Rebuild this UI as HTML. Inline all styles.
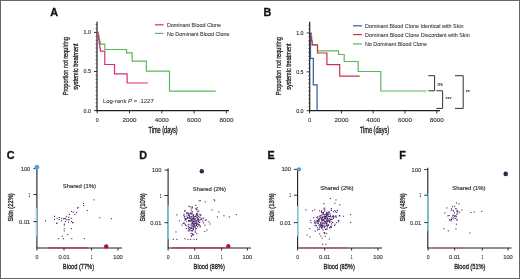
<!DOCTYPE html>
<html><head><meta charset="utf-8"><style>
html,body{margin:0;padding:0;background:#fff;}
svg{display:block;font-family:"Liberation Sans", sans-serif;will-change:transform;}
</style></head><body>
<svg width="520" height="279" viewBox="0 0 520 279" font-family='"Liberation Sans", sans-serif'>
<rect x="0.5" y="0.5" width="519" height="278" fill="#fff" stroke="#666" stroke-width="1"/>
<text x="50.20" y="15.80" font-size="10.8" text-anchor="start" font-weight="bold" fill="#111" stroke="#111" stroke-width="0.3" >A</text>
<line x1="97.00" y1="21.80" x2="97.00" y2="111.20" stroke="#1e1e1e" stroke-width="1.2" />
<line x1="94.00" y1="32.40" x2="97.00" y2="32.40" stroke="#1e1e1e" stroke-width="0.9" />
<text x="90.90" y="34.30" font-size="5.6" text-anchor="end" font-weight="normal" fill="#333" stroke="#333" stroke-width="0.14" textLength="7.4" lengthAdjust="spacingAndGlyphs" >1.0</text>
<line x1="94.00" y1="71.50" x2="97.00" y2="71.50" stroke="#1e1e1e" stroke-width="0.9" />
<text x="90.90" y="73.40" font-size="5.6" text-anchor="end" font-weight="normal" fill="#333" stroke="#333" stroke-width="0.14" textLength="7.4" lengthAdjust="spacingAndGlyphs" >0.5</text>
<line x1="94.00" y1="110.60" x2="97.00" y2="110.60" stroke="#1e1e1e" stroke-width="0.9" />
<text x="90.90" y="112.50" font-size="5.6" text-anchor="end" font-weight="normal" fill="#333" stroke="#333" stroke-width="0.14" textLength="7.4" lengthAdjust="spacingAndGlyphs" >0.0</text>
<line x1="95.50" y1="106.69" x2="97.00" y2="106.69" stroke="#333" stroke-width="0.7" />
<line x1="95.50" y1="102.78" x2="97.00" y2="102.78" stroke="#333" stroke-width="0.7" />
<line x1="95.50" y1="98.87" x2="97.00" y2="98.87" stroke="#333" stroke-width="0.7" />
<line x1="95.50" y1="94.96" x2="97.00" y2="94.96" stroke="#333" stroke-width="0.7" />
<line x1="95.50" y1="91.05" x2="97.00" y2="91.05" stroke="#333" stroke-width="0.7" />
<line x1="95.50" y1="87.14" x2="97.00" y2="87.14" stroke="#333" stroke-width="0.7" />
<line x1="95.50" y1="83.23" x2="97.00" y2="83.23" stroke="#333" stroke-width="0.7" />
<line x1="95.50" y1="79.32" x2="97.00" y2="79.32" stroke="#333" stroke-width="0.7" />
<line x1="95.50" y1="75.41" x2="97.00" y2="75.41" stroke="#333" stroke-width="0.7" />
<line x1="95.50" y1="67.59" x2="97.00" y2="67.59" stroke="#333" stroke-width="0.7" />
<line x1="95.50" y1="63.68" x2="97.00" y2="63.68" stroke="#333" stroke-width="0.7" />
<line x1="95.50" y1="59.77" x2="97.00" y2="59.77" stroke="#333" stroke-width="0.7" />
<line x1="95.50" y1="55.86" x2="97.00" y2="55.86" stroke="#333" stroke-width="0.7" />
<line x1="95.50" y1="51.95" x2="97.00" y2="51.95" stroke="#333" stroke-width="0.7" />
<line x1="95.50" y1="48.04" x2="97.00" y2="48.04" stroke="#333" stroke-width="0.7" />
<line x1="95.50" y1="44.13" x2="97.00" y2="44.13" stroke="#333" stroke-width="0.7" />
<line x1="95.50" y1="40.22" x2="97.00" y2="40.22" stroke="#333" stroke-width="0.7" />
<line x1="95.50" y1="36.31" x2="97.00" y2="36.31" stroke="#333" stroke-width="0.7" />
<line x1="95.50" y1="28.49" x2="97.00" y2="28.49" stroke="#333" stroke-width="0.7" />
<line x1="95.50" y1="24.58" x2="97.00" y2="24.58" stroke="#333" stroke-width="0.7" />
<line x1="96.40" y1="110.60" x2="229.00" y2="110.60" stroke="#1e1e1e" stroke-width="1.2" />
<line x1="97.20" y1="110.60" x2="97.20" y2="113.40" stroke="#1e1e1e" stroke-width="0.9" />
<text x="97.20" y="121.90" font-size="5.8" text-anchor="middle" font-weight="normal" fill="#333" stroke="#333" stroke-width="0.12" textLength="2.9" lengthAdjust="spacingAndGlyphs" >0</text>
<line x1="129.50" y1="110.60" x2="129.50" y2="113.40" stroke="#1e1e1e" stroke-width="0.9" />
<text x="129.50" y="121.90" font-size="5.8" text-anchor="middle" font-weight="normal" fill="#333" stroke="#333" stroke-width="0.12" textLength="14.0" lengthAdjust="spacingAndGlyphs" >2000</text>
<line x1="161.80" y1="110.60" x2="161.80" y2="113.40" stroke="#1e1e1e" stroke-width="0.9" />
<text x="161.80" y="121.90" font-size="5.8" text-anchor="middle" font-weight="normal" fill="#333" stroke="#333" stroke-width="0.12" textLength="14.0" lengthAdjust="spacingAndGlyphs" >4000</text>
<line x1="194.10" y1="110.60" x2="194.10" y2="113.40" stroke="#1e1e1e" stroke-width="0.9" />
<text x="194.10" y="121.90" font-size="5.8" text-anchor="middle" font-weight="normal" fill="#333" stroke="#333" stroke-width="0.12" textLength="14.0" lengthAdjust="spacingAndGlyphs" >6000</text>
<line x1="226.40" y1="110.60" x2="226.40" y2="113.40" stroke="#1e1e1e" stroke-width="0.9" />
<text x="226.40" y="121.90" font-size="5.8" text-anchor="middle" font-weight="normal" fill="#333" stroke="#333" stroke-width="0.12" textLength="14.0" lengthAdjust="spacingAndGlyphs" >8000</text>
<text x="163.10" y="133.30" font-size="8.2" text-anchor="middle" font-weight="normal" fill="#222" stroke="#222" stroke-width="0.32" textLength="29.2" lengthAdjust="spacingAndGlyphs" >Time (days)</text>
<g transform="translate(67.6,66.2) rotate(-90)">
<text x="0.00" y="0.00" font-size="7.9" text-anchor="middle" font-weight="normal" fill="#222" stroke="#222" stroke-width="0.32" textLength="58.3" lengthAdjust="spacingAndGlyphs" >Proportion not requiring</text>
</g>
<g transform="translate(78.0,66.6) rotate(-90)">
<text x="0.00" y="0.00" font-size="7.9" text-anchor="middle" font-weight="normal" fill="#222" stroke="#222" stroke-width="0.32" textLength="46.5" lengthAdjust="spacingAndGlyphs" >systemic treatment</text>
</g>
<path d="M97.2,32.4 H98.2 V35 H99 V38.5 H99.6 V41.5 H100.3 V44.2 H104.8 V49.5 H126.6 V52.9 H132.2 V61.1 H146.3 V71.1 H169.5 V91.1 H215.7 V91.1" fill="none" stroke="#5cb858" stroke-width="1.2" />
<path d="M97.2,32.4 H97.8 V36 H98.5 V40 H99.2 V44 H99.8 V48 H100.4 V51.2 H104.8 V64.5 H114.5 V73.8 H127.1 V83.0 H147.8 V83.0" fill="none" stroke="#dc2a7c" stroke-width="1.2" />
<line x1="154.90" y1="24.80" x2="163.60" y2="24.80" stroke="#dc2a7c" stroke-width="1.2" />
<line x1="154.90" y1="33.40" x2="163.60" y2="33.40" stroke="#5cb858" stroke-width="1.2" />
<text x="166.90" y="26.70" font-size="5.5" text-anchor="start" font-weight="normal" fill="#404040" stroke="#404040" stroke-width="0.1" textLength="54.2" lengthAdjust="spacingAndGlyphs" >Dominant Blood Clone</text>
<text x="166.90" y="35.50" font-size="5.5" text-anchor="start" font-weight="normal" fill="#404040" stroke="#404040" stroke-width="0.1" textLength="62.7" lengthAdjust="spacingAndGlyphs" >No Dominant Blood Clone</text>
<text x="102.9" y="103" font-size="6.1" fill="#333" stroke="#333" stroke-width="0.06" textLength="50.8" lengthAdjust="spacingAndGlyphs">Log-rank <tspan font-style="italic">P</tspan> = .1227</text>
<text x="263.40" y="15.80" font-size="10.8" text-anchor="start" font-weight="bold" fill="#111" stroke="#111" stroke-width="0.3" >B</text>
<line x1="309.70" y1="21.80" x2="309.70" y2="111.30" stroke="#1e1e1e" stroke-width="1.2" />
<line x1="306.70" y1="33.00" x2="309.70" y2="33.00" stroke="#1e1e1e" stroke-width="0.9" />
<text x="303.60" y="34.90" font-size="5.6" text-anchor="end" font-weight="normal" fill="#333" stroke="#333" stroke-width="0.14" textLength="7.4" lengthAdjust="spacingAndGlyphs" >1.0</text>
<line x1="306.70" y1="71.85" x2="309.70" y2="71.85" stroke="#1e1e1e" stroke-width="0.9" />
<text x="303.60" y="73.75" font-size="5.6" text-anchor="end" font-weight="normal" fill="#333" stroke="#333" stroke-width="0.14" textLength="7.4" lengthAdjust="spacingAndGlyphs" >0.5</text>
<line x1="306.70" y1="110.70" x2="309.70" y2="110.70" stroke="#1e1e1e" stroke-width="0.9" />
<text x="303.60" y="112.60" font-size="5.6" text-anchor="end" font-weight="normal" fill="#333" stroke="#333" stroke-width="0.14" textLength="7.4" lengthAdjust="spacingAndGlyphs" >0.0</text>
<line x1="308.20" y1="106.81" x2="309.70" y2="106.81" stroke="#333" stroke-width="0.7" />
<line x1="308.20" y1="102.93" x2="309.70" y2="102.93" stroke="#333" stroke-width="0.7" />
<line x1="308.20" y1="99.05" x2="309.70" y2="99.05" stroke="#333" stroke-width="0.7" />
<line x1="308.20" y1="95.16" x2="309.70" y2="95.16" stroke="#333" stroke-width="0.7" />
<line x1="308.20" y1="91.28" x2="309.70" y2="91.28" stroke="#333" stroke-width="0.7" />
<line x1="308.20" y1="87.39" x2="309.70" y2="87.39" stroke="#333" stroke-width="0.7" />
<line x1="308.20" y1="83.50" x2="309.70" y2="83.50" stroke="#333" stroke-width="0.7" />
<line x1="308.20" y1="79.62" x2="309.70" y2="79.62" stroke="#333" stroke-width="0.7" />
<line x1="308.20" y1="75.73" x2="309.70" y2="75.73" stroke="#333" stroke-width="0.7" />
<line x1="308.20" y1="67.97" x2="309.70" y2="67.97" stroke="#333" stroke-width="0.7" />
<line x1="308.20" y1="64.08" x2="309.70" y2="64.08" stroke="#333" stroke-width="0.7" />
<line x1="308.20" y1="60.20" x2="309.70" y2="60.20" stroke="#333" stroke-width="0.7" />
<line x1="308.20" y1="56.31" x2="309.70" y2="56.31" stroke="#333" stroke-width="0.7" />
<line x1="308.20" y1="52.42" x2="309.70" y2="52.42" stroke="#333" stroke-width="0.7" />
<line x1="308.20" y1="48.54" x2="309.70" y2="48.54" stroke="#333" stroke-width="0.7" />
<line x1="308.20" y1="44.65" x2="309.70" y2="44.65" stroke="#333" stroke-width="0.7" />
<line x1="308.20" y1="40.77" x2="309.70" y2="40.77" stroke="#333" stroke-width="0.7" />
<line x1="308.20" y1="36.88" x2="309.70" y2="36.88" stroke="#333" stroke-width="0.7" />
<line x1="308.20" y1="29.11" x2="309.70" y2="29.11" stroke="#333" stroke-width="0.7" />
<line x1="308.20" y1="25.23" x2="309.70" y2="25.23" stroke="#333" stroke-width="0.7" />
<line x1="309.10" y1="110.70" x2="440.00" y2="110.70" stroke="#1e1e1e" stroke-width="1.2" />
<line x1="309.60" y1="110.70" x2="309.60" y2="113.50" stroke="#1e1e1e" stroke-width="0.9" />
<text x="309.60" y="121.90" font-size="5.8" text-anchor="middle" font-weight="normal" fill="#333" stroke="#333" stroke-width="0.12" textLength="2.9" lengthAdjust="spacingAndGlyphs" >0</text>
<line x1="341.40" y1="110.70" x2="341.40" y2="113.50" stroke="#1e1e1e" stroke-width="0.9" />
<text x="341.40" y="121.90" font-size="5.8" text-anchor="middle" font-weight="normal" fill="#333" stroke="#333" stroke-width="0.12" textLength="14.0" lengthAdjust="spacingAndGlyphs" >2000</text>
<line x1="373.20" y1="110.70" x2="373.20" y2="113.50" stroke="#1e1e1e" stroke-width="0.9" />
<text x="373.20" y="121.90" font-size="5.8" text-anchor="middle" font-weight="normal" fill="#333" stroke="#333" stroke-width="0.12" textLength="14.0" lengthAdjust="spacingAndGlyphs" >4000</text>
<line x1="405.00" y1="110.70" x2="405.00" y2="113.50" stroke="#1e1e1e" stroke-width="0.9" />
<text x="405.00" y="121.90" font-size="5.8" text-anchor="middle" font-weight="normal" fill="#333" stroke="#333" stroke-width="0.12" textLength="14.0" lengthAdjust="spacingAndGlyphs" >6000</text>
<line x1="436.80" y1="110.70" x2="436.80" y2="113.50" stroke="#1e1e1e" stroke-width="0.9" />
<text x="436.80" y="121.90" font-size="5.8" text-anchor="middle" font-weight="normal" fill="#333" stroke="#333" stroke-width="0.12" textLength="14.0" lengthAdjust="spacingAndGlyphs" >8000</text>
<text x="374.50" y="133.30" font-size="8.2" text-anchor="middle" font-weight="normal" fill="#222" stroke="#222" stroke-width="0.32" textLength="29.2" lengthAdjust="spacingAndGlyphs" >Time (days)</text>
<g transform="translate(280.6,66.2) rotate(-90)">
<text x="0.00" y="0.00" font-size="7.9" text-anchor="middle" font-weight="normal" fill="#222" stroke="#222" stroke-width="0.32" textLength="58.3" lengthAdjust="spacingAndGlyphs" >Proportion not requiring</text>
</g>
<g transform="translate(290.8,66.6) rotate(-90)">
<text x="0.00" y="0.00" font-size="7.9" text-anchor="middle" font-weight="normal" fill="#222" stroke="#222" stroke-width="0.32" textLength="46.5" lengthAdjust="spacingAndGlyphs" >systemic treatment</text>
</g>
<path d="M310.3,33 H311 V37 H311.6 V41 H312.2 V44.9 H317.5 V50.8 H338.6 V54.5 H344.2 V61.5 H358.2 V71.5 H380.8 V91.0 H426.8 V91.0" fill="none" stroke="#5cb858" stroke-width="1.2" />
<path d="M310.3,33 H311 V37 H311.6 V41 H312.2 V44.9 H317.5 V53.0 H326.9 V64.6 H339.7 V76.2 H359.7 V76.2" fill="none" stroke="#cf3048" stroke-width="1.2" />
<path d="M310.5,33 H310.5 V58.3 H313.3 V84.8 H317.1 V110.7" fill="none" stroke="#2e5c9c" stroke-width="1.2" />
<line x1="353.00" y1="25.80" x2="362.00" y2="25.80" stroke="#2e5c9c" stroke-width="1.2" />
<line x1="353.00" y1="34.60" x2="362.00" y2="34.60" stroke="#cf3048" stroke-width="1.2" />
<line x1="353.00" y1="43.90" x2="362.00" y2="43.90" stroke="#5cb858" stroke-width="1.2" />
<text x="365.00" y="27.80" font-size="5.5" text-anchor="start" font-weight="normal" fill="#404040" stroke="#404040" stroke-width="0.1" textLength="98.6" lengthAdjust="spacingAndGlyphs" >Dominant Blood Clone Identical with Skin</text>
<text x="365.00" y="36.60" font-size="5.5" text-anchor="start" font-weight="normal" fill="#404040" stroke="#404040" stroke-width="0.1" textLength="104.7" lengthAdjust="spacingAndGlyphs" >Dominant Blood Clone Discordant with Skin</text>
<text x="365.00" y="45.90" font-size="5.5" text-anchor="start" font-weight="normal" fill="#404040" stroke="#404040" stroke-width="0.1" textLength="62.0" lengthAdjust="spacingAndGlyphs" >No Dominant Blood Clone</text>
<path d="M428.3,75.7 H434.6 V90.8 H428.3" fill="none" stroke="#333" stroke-width="1.0" />
<path d="M436.3,90.8 H442.6 V108.4 H436.3" fill="none" stroke="#333" stroke-width="1.0" />
<path d="M455.0,75.7 H463.2 V108.4 H455.0" fill="none" stroke="#333" stroke-width="1.0" />
<text x="437.60" y="85.60" font-size="5.2" text-anchor="start" font-weight="normal" fill="#2a2a2a" stroke="#2a2a2a" stroke-width="0.1" textLength="5.2" lengthAdjust="spacingAndGlyphs" >ns</text>
<text x="445.60" y="100.60" font-size="5.5" text-anchor="start" font-weight="normal" fill="#2a2a2a" stroke="#2a2a2a" stroke-width="0.1" textLength="5.8" lengthAdjust="spacingAndGlyphs" >***</text>
<text x="465.80" y="94.00" font-size="5.5" text-anchor="start" font-weight="normal" fill="#2a2a2a" stroke="#2a2a2a" stroke-width="0.1" textLength="4.0" lengthAdjust="spacingAndGlyphs" >**</text>
<text x="6.80" y="158.90" font-size="10.8" text-anchor="start" font-weight="bold" fill="#111" stroke="#111" stroke-width="0.3" >C</text>
<line x1="36.90" y1="167.00" x2="36.90" y2="248.00" stroke="#1e1e1e" stroke-width="1.1" />
<line x1="36.30" y1="208.00" x2="36.30" y2="236.50" stroke="#98d5e6" stroke-width="1.5" />
<line x1="36.40" y1="248.00" x2="122.00" y2="248.00" stroke="#1e1e1e" stroke-width="1.1" />
<line x1="47.80" y1="247.80" x2="88.40" y2="247.80" stroke="#a8405e" stroke-width="1.3" />
<line x1="33.30" y1="168.60" x2="36.90" y2="168.60" stroke="#1e1e1e" stroke-width="0.9" />
<text x="30.30" y="170.60" font-size="6.0" text-anchor="end" font-weight="normal" fill="#333" stroke="#333" stroke-width="0.12" textLength="9.6" lengthAdjust="spacingAndGlyphs" >100</text>
<line x1="33.30" y1="194.60" x2="36.90" y2="194.60" stroke="#1e1e1e" stroke-width="0.9" />
<text x="30.30" y="196.60" font-size="6.0" text-anchor="end" font-weight="normal" fill="#333" stroke="#333" stroke-width="0.12" textLength="1.8" lengthAdjust="spacingAndGlyphs" >1</text>
<line x1="33.30" y1="221.60" x2="36.90" y2="221.60" stroke="#1e1e1e" stroke-width="0.9" />
<text x="30.30" y="223.60" font-size="6.0" text-anchor="end" font-weight="normal" fill="#333" stroke="#333" stroke-width="0.12" textLength="11.2" lengthAdjust="spacingAndGlyphs" >0.01</text>
<line x1="36.90" y1="248.00" x2="36.90" y2="250.60" stroke="#1e1e1e" stroke-width="0.9" />
<text x="36.90" y="259.30" font-size="6.0" text-anchor="middle" font-weight="normal" fill="#333" stroke="#333" stroke-width="0.12" textLength="2.9" lengthAdjust="spacingAndGlyphs" >0</text>
<line x1="64.00" y1="248.00" x2="64.00" y2="250.60" stroke="#1e1e1e" stroke-width="0.9" />
<text x="64.00" y="259.30" font-size="6.0" text-anchor="middle" font-weight="normal" fill="#333" stroke="#333" stroke-width="0.12" textLength="11.2" lengthAdjust="spacingAndGlyphs" >0.01</text>
<line x1="91.60" y1="248.00" x2="91.60" y2="250.60" stroke="#1e1e1e" stroke-width="0.9" />
<text x="91.60" y="259.30" font-size="6.0" text-anchor="middle" font-weight="normal" fill="#333" stroke="#333" stroke-width="0.12" textLength="1.8" lengthAdjust="spacingAndGlyphs" >1</text>
<line x1="118.00" y1="248.00" x2="118.00" y2="250.60" stroke="#1e1e1e" stroke-width="0.9" />
<text x="118.00" y="259.30" font-size="6.0" text-anchor="middle" font-weight="normal" fill="#333" stroke="#333" stroke-width="0.12" textLength="9.6" lengthAdjust="spacingAndGlyphs" >100</text>
<text x="78.45" y="269.10" font-size="8.0" text-anchor="middle" font-weight="normal" fill="#222" stroke="#222" stroke-width="0.32" textLength="31.2" lengthAdjust="spacingAndGlyphs" >Blood (77%)</text>
<g transform="translate(13.4,207.4) rotate(-90)">
<text x="0.00" y="0.00" font-size="8.0" text-anchor="middle" font-weight="normal" fill="#222" stroke="#222" stroke-width="0.32" textLength="28.2" lengthAdjust="spacingAndGlyphs" >Skin (22%)</text>
</g>
<text x="62.70" y="187.80" font-size="5.8" text-anchor="start" font-weight="normal" fill="#3a3a3a" stroke="#3a3a3a" stroke-width="0.18" textLength="33.3" lengthAdjust="spacingAndGlyphs" >Shared (1%)</text>
<rect x="77.5" y="206.9" width="1.1" height="1.1" fill="#4a2468"/>
<rect x="71.0" y="210.9" width="1.1" height="1.1" fill="#4a2468"/>
<rect x="72.8" y="211.6" width="1.1" height="1.1" fill="#4a2468"/>
<rect x="76.0" y="211.8" width="1.1" height="1.1" fill="#4a2468"/>
<rect x="74.2" y="213.8" width="1.1" height="1.1" fill="#4a2468"/>
<rect x="68.9" y="213.8" width="1.1" height="1.1" fill="#4a2468"/>
<rect x="66.0" y="215.8" width="1.1" height="1.1" fill="#4a2468"/>
<rect x="68.2" y="216.8" width="1.1" height="1.1" fill="#4a2468"/>
<rect x="70.7" y="217.8" width="1.1" height="1.1" fill="#4a2468"/>
<rect x="54.0" y="215.8" width="1.1" height="1.1" fill="#4a2468"/>
<rect x="54.0" y="218.8" width="1.1" height="1.1" fill="#4a2468"/>
<rect x="56.7" y="217.8" width="1.1" height="1.1" fill="#4a2468"/>
<rect x="58.8" y="217.0" width="1.1" height="1.1" fill="#4a2468"/>
<rect x="58.8" y="219.1" width="1.1" height="1.1" fill="#4a2468"/>
<rect x="61.2" y="217.8" width="1.1" height="1.1" fill="#4a2468"/>
<rect x="64.2" y="218.0" width="1.1" height="1.1" fill="#4a2468"/>
<rect x="64.9" y="217.8" width="1.1" height="1.1" fill="#4a2468"/>
<rect x="67.5" y="219.3" width="1.1" height="1.1" fill="#4a2468"/>
<rect x="68.5" y="219.1" width="1.1" height="1.1" fill="#4a2468"/>
<rect x="61.0" y="220.2" width="1.1" height="1.1" fill="#4a2468"/>
<rect x="64.9" y="221.1" width="1.1" height="1.1" fill="#4a2468"/>
<rect x="68.0" y="221.8" width="1.1" height="1.1" fill="#4a2468"/>
<rect x="71.0" y="220.9" width="1.1" height="1.1" fill="#4a2468"/>
<rect x="72.0" y="222.0" width="1.1" height="1.1" fill="#4a2468"/>
<rect x="56.2" y="222.9" width="1.1" height="1.1" fill="#4a2468"/>
<rect x="63.9" y="223.6" width="1.1" height="1.1" fill="#4a2468"/>
<rect x="56.2" y="222.6" width="1.1" height="1.1" fill="#4a2468"/>
<rect x="63.7" y="224.6" width="1.1" height="1.1" fill="#4a2468"/>
<rect x="72.4" y="222.2" width="1.1" height="1.1" fill="#4a2468"/>
<rect x="63.7" y="228.1" width="1.1" height="1.1" fill="#4a2468"/>
<rect x="70.8" y="228.1" width="1.1" height="1.1" fill="#4a2468"/>
<rect x="63.7" y="230.4" width="1.1" height="1.1" fill="#4a2468"/>
<rect x="67.2" y="234.0" width="1.1" height="1.1" fill="#4a2468"/>
<rect x="61.7" y="235.8" width="1.1" height="1.1" fill="#4a2468"/>
<rect x="57.8" y="238.1" width="1.1" height="1.1" fill="#4a2468"/>
<rect x="62.9" y="238.1" width="1.1" height="1.1" fill="#4a2468"/>
<rect x="71.2" y="238.1" width="1.1" height="1.1" fill="#4a2468"/>
<rect x="83.8" y="238.1" width="1.1" height="1.1" fill="#4a2468"/>
<rect x="45.0" y="220.3" width="1.1" height="1.1" fill="#4a2468"/>
<rect x="83.0" y="202.8" width="1.1" height="1.1" fill="#4a2468"/>
<rect x="83.0" y="205.0" width="1.1" height="1.1" fill="#4a2468"/>
<rect x="86.7" y="210.0" width="1.1" height="1.1" fill="#4a2468"/>
<rect x="93.5" y="199.3" width="1.1" height="1.1" fill="#4a2468"/>
<rect x="99.2" y="217.2" width="1.1" height="1.1" fill="#4a2468"/>
<rect x="110.9" y="218.1" width="1.1" height="1.1" fill="#4a2468"/>
<rect x="77.0" y="207.6" width="1.1" height="1.1" fill="#4a2468"/>
<rect x="63.0" y="218.3" width="1.1" height="1.1" fill="#4a2468"/>
<rect x="65.7" y="219.2" width="1.1" height="1.1" fill="#4a2468"/>
<circle cx="36.9" cy="167.2" r="2.4" fill="#4aa3dc"/>
<circle cx="106.2" cy="246.4" r="2.2" fill="#b0103c"/>
<text x="139.30" y="158.90" font-size="10.8" text-anchor="start" font-weight="bold" fill="#111" stroke="#111" stroke-width="0.3" >D</text>
<line x1="168.10" y1="168.50" x2="168.10" y2="248.00" stroke="#1e1e1e" stroke-width="1.1" />
<line x1="168.20" y1="205.50" x2="168.20" y2="239.00" stroke="#7cc8e2" stroke-width="1.5" />
<line x1="167.60" y1="248.00" x2="251.00" y2="248.00" stroke="#1e1e1e" stroke-width="1.1" />
<line x1="172.00" y1="247.80" x2="226.00" y2="247.80" stroke="#a8405e" stroke-width="1.3" />
<line x1="164.50" y1="170.10" x2="168.10" y2="170.10" stroke="#1e1e1e" stroke-width="0.9" />
<text x="161.50" y="172.10" font-size="6.0" text-anchor="end" font-weight="normal" fill="#333" stroke="#333" stroke-width="0.12" textLength="9.6" lengthAdjust="spacingAndGlyphs" >100</text>
<line x1="164.50" y1="195.50" x2="168.10" y2="195.50" stroke="#1e1e1e" stroke-width="0.9" />
<text x="161.50" y="197.50" font-size="6.0" text-anchor="end" font-weight="normal" fill="#333" stroke="#333" stroke-width="0.12" textLength="1.8" lengthAdjust="spacingAndGlyphs" >1</text>
<line x1="164.50" y1="222.70" x2="168.10" y2="222.70" stroke="#1e1e1e" stroke-width="0.9" />
<text x="161.50" y="224.70" font-size="6.0" text-anchor="end" font-weight="normal" fill="#333" stroke="#333" stroke-width="0.12" textLength="11.2" lengthAdjust="spacingAndGlyphs" >0.01</text>
<line x1="168.10" y1="248.00" x2="168.10" y2="250.60" stroke="#1e1e1e" stroke-width="0.9" />
<text x="168.10" y="259.30" font-size="6.0" text-anchor="middle" font-weight="normal" fill="#333" stroke="#333" stroke-width="0.12" textLength="2.9" lengthAdjust="spacingAndGlyphs" >0</text>
<line x1="194.70" y1="248.00" x2="194.70" y2="250.60" stroke="#1e1e1e" stroke-width="0.9" />
<text x="194.70" y="259.30" font-size="6.0" text-anchor="middle" font-weight="normal" fill="#333" stroke="#333" stroke-width="0.12" textLength="11.2" lengthAdjust="spacingAndGlyphs" >0.01</text>
<line x1="221.60" y1="248.00" x2="221.60" y2="250.60" stroke="#1e1e1e" stroke-width="0.9" />
<text x="221.60" y="259.30" font-size="6.0" text-anchor="middle" font-weight="normal" fill="#333" stroke="#333" stroke-width="0.12" textLength="1.8" lengthAdjust="spacingAndGlyphs" >1</text>
<line x1="247.40" y1="248.00" x2="247.40" y2="250.60" stroke="#1e1e1e" stroke-width="0.9" />
<text x="247.40" y="259.30" font-size="6.0" text-anchor="middle" font-weight="normal" fill="#333" stroke="#333" stroke-width="0.12" textLength="9.6" lengthAdjust="spacingAndGlyphs" >100</text>
<text x="209.20" y="269.10" font-size="8.0" text-anchor="middle" font-weight="normal" fill="#222" stroke="#222" stroke-width="0.32" textLength="31.2" lengthAdjust="spacingAndGlyphs" >Blood (88%)</text>
<g transform="translate(144.6,207.4) rotate(-90)">
<text x="0.00" y="0.00" font-size="8.0" text-anchor="middle" font-weight="normal" fill="#222" stroke="#222" stroke-width="0.32" textLength="28.2" lengthAdjust="spacingAndGlyphs" >Skin (10%)</text>
</g>
<text x="192.70" y="191.00" font-size="5.8" text-anchor="start" font-weight="normal" fill="#3a3a3a" stroke="#3a3a3a" stroke-width="0.18" textLength="33.3" lengthAdjust="spacingAndGlyphs" >Shared (2%)</text>
<rect x="186.3" y="221.2" width="1.1" height="1.1" fill="#4a2468"/>
<rect x="197.1" y="217.4" width="1.1" height="1.1" fill="#4a2468"/>
<rect x="185.7" y="218.6" width="1.1" height="1.1" fill="#4a2468"/>
<rect x="194.6" y="226.1" width="1.1" height="1.1" fill="#4a2468"/>
<rect x="186.3" y="211.9" width="1.1" height="1.1" fill="#4a2468"/>
<rect x="195.7" y="222.8" width="1.1" height="1.1" fill="#4a2468"/>
<rect x="199.8" y="226.1" width="1.1" height="1.1" fill="#4a2468"/>
<rect x="191.8" y="218.2" width="1.1" height="1.1" fill="#4a2468"/>
<rect x="204.8" y="219.6" width="1.1" height="1.1" fill="#4a2468"/>
<rect x="188.4" y="213.0" width="1.1" height="1.1" fill="#4a2468"/>
<rect x="192.7" y="220.6" width="1.1" height="1.1" fill="#4a2468"/>
<rect x="190.6" y="219.2" width="1.1" height="1.1" fill="#4a2468"/>
<rect x="193.6" y="223.8" width="1.1" height="1.1" fill="#4a2468"/>
<rect x="197.6" y="221.5" width="1.1" height="1.1" fill="#4a2468"/>
<rect x="183.5" y="222.7" width="1.1" height="1.1" fill="#4a2468"/>
<rect x="185.3" y="218.0" width="1.1" height="1.1" fill="#4a2468"/>
<rect x="185.0" y="218.9" width="1.1" height="1.1" fill="#4a2468"/>
<rect x="188.4" y="220.5" width="1.1" height="1.1" fill="#4a2468"/>
<rect x="208.4" y="221.3" width="1.1" height="1.1" fill="#4a2468"/>
<rect x="196.4" y="212.8" width="1.1" height="1.1" fill="#4a2468"/>
<rect x="190.8" y="223.3" width="1.1" height="1.1" fill="#4a2468"/>
<rect x="191.8" y="221.8" width="1.1" height="1.1" fill="#4a2468"/>
<rect x="192.8" y="214.2" width="1.1" height="1.1" fill="#4a2468"/>
<rect x="195.0" y="215.5" width="1.1" height="1.1" fill="#4a2468"/>
<rect x="201.4" y="218.0" width="1.1" height="1.1" fill="#4a2468"/>
<rect x="195.6" y="220.1" width="1.1" height="1.1" fill="#4a2468"/>
<rect x="196.9" y="216.9" width="1.1" height="1.1" fill="#4a2468"/>
<rect x="197.1" y="219.6" width="1.1" height="1.1" fill="#4a2468"/>
<rect x="198.4" y="223.9" width="1.1" height="1.1" fill="#4a2468"/>
<rect x="192.9" y="215.5" width="1.1" height="1.1" fill="#4a2468"/>
<rect x="196.0" y="222.8" width="1.1" height="1.1" fill="#4a2468"/>
<rect x="200.3" y="218.6" width="1.1" height="1.1" fill="#4a2468"/>
<rect x="195.0" y="222.9" width="1.1" height="1.1" fill="#4a2468"/>
<rect x="193.6" y="221.1" width="1.1" height="1.1" fill="#4a2468"/>
<rect x="193.1" y="216.5" width="1.1" height="1.1" fill="#4a2468"/>
<rect x="187.3" y="217.0" width="1.1" height="1.1" fill="#4a2468"/>
<rect x="195.1" y="228.5" width="1.1" height="1.1" fill="#4a2468"/>
<rect x="197.0" y="226.2" width="1.1" height="1.1" fill="#4a2468"/>
<rect x="196.1" y="224.1" width="1.1" height="1.1" fill="#4a2468"/>
<rect x="193.1" y="224.2" width="1.1" height="1.1" fill="#4a2468"/>
<rect x="200.9" y="218.9" width="1.1" height="1.1" fill="#4a2468"/>
<rect x="188.9" y="230.3" width="1.1" height="1.1" fill="#4a2468"/>
<rect x="193.4" y="225.3" width="1.1" height="1.1" fill="#4a2468"/>
<rect x="196.5" y="213.9" width="1.1" height="1.1" fill="#4a2468"/>
<rect x="204.2" y="231.0" width="1.1" height="1.1" fill="#4a2468"/>
<rect x="193.1" y="224.0" width="1.1" height="1.1" fill="#4a2468"/>
<rect x="192.9" y="214.9" width="1.1" height="1.1" fill="#4a2468"/>
<rect x="191.7" y="221.8" width="1.1" height="1.1" fill="#4a2468"/>
<rect x="197.7" y="224.3" width="1.1" height="1.1" fill="#4a2468"/>
<rect x="192.5" y="227.3" width="1.1" height="1.1" fill="#4a2468"/>
<rect x="188.5" y="223.7" width="1.1" height="1.1" fill="#4a2468"/>
<rect x="197.7" y="218.7" width="1.1" height="1.1" fill="#4a2468"/>
<rect x="183.5" y="213.7" width="1.1" height="1.1" fill="#4a2468"/>
<rect x="193.4" y="222.8" width="1.1" height="1.1" fill="#4a2468"/>
<rect x="199.8" y="215.0" width="1.1" height="1.1" fill="#4a2468"/>
<rect x="192.3" y="223.4" width="1.1" height="1.1" fill="#4a2468"/>
<rect x="191.5" y="206.5" width="1.1" height="1.1" fill="#4a2468"/>
<rect x="196.2" y="233.1" width="1.1" height="1.1" fill="#4a2468"/>
<rect x="197.2" y="215.2" width="1.1" height="1.1" fill="#4a2468"/>
<rect x="190.2" y="220.8" width="1.1" height="1.1" fill="#4a2468"/>
<rect x="204.4" y="224.6" width="1.1" height="1.1" fill="#4a2468"/>
<rect x="192.8" y="228.5" width="1.1" height="1.1" fill="#4a2468"/>
<rect x="191.8" y="230.1" width="1.1" height="1.1" fill="#4a2468"/>
<rect x="188.9" y="216.7" width="1.1" height="1.1" fill="#4a2468"/>
<rect x="195.8" y="228.1" width="1.1" height="1.1" fill="#4a2468"/>
<rect x="195.5" y="221.8" width="1.1" height="1.1" fill="#4a2468"/>
<rect x="183.3" y="214.8" width="1.1" height="1.1" fill="#4a2468"/>
<rect x="189.3" y="216.4" width="1.1" height="1.1" fill="#4a2468"/>
<rect x="195.1" y="218.2" width="1.1" height="1.1" fill="#4a2468"/>
<rect x="196.1" y="220.6" width="1.1" height="1.1" fill="#4a2468"/>
<rect x="190.6" y="220.2" width="1.1" height="1.1" fill="#4a2468"/>
<rect x="194.4" y="224.8" width="1.1" height="1.1" fill="#4a2468"/>
<rect x="189.9" y="218.2" width="1.1" height="1.1" fill="#4a2468"/>
<rect x="185.6" y="227.9" width="1.1" height="1.1" fill="#4a2468"/>
<rect x="199.4" y="219.6" width="1.1" height="1.1" fill="#4a2468"/>
<rect x="189.9" y="212.6" width="1.1" height="1.1" fill="#4a2468"/>
<rect x="193.1" y="221.0" width="1.1" height="1.1" fill="#4a2468"/>
<rect x="202.9" y="222.3" width="1.1" height="1.1" fill="#4a2468"/>
<rect x="188.4" y="205.7" width="1.1" height="1.1" fill="#4a2468"/>
<rect x="199.2" y="221.6" width="1.1" height="1.1" fill="#4a2468"/>
<rect x="184.4" y="219.9" width="1.1" height="1.1" fill="#4a2468"/>
<rect x="184.4" y="238.2" width="1.1" height="1.1" fill="#4a2468"/>
<rect x="197.7" y="223.6" width="1.1" height="1.1" fill="#4a2468"/>
<rect x="191.4" y="207.7" width="1.1" height="1.1" fill="#4a2468"/>
<rect x="191.6" y="211.0" width="1.1" height="1.1" fill="#4a2468"/>
<rect x="195.2" y="208.2" width="1.1" height="1.1" fill="#4a2468"/>
<rect x="187.8" y="226.0" width="1.1" height="1.1" fill="#4a2468"/>
<rect x="200.3" y="214.1" width="1.1" height="1.1" fill="#4a2468"/>
<rect x="184.7" y="223.8" width="1.1" height="1.1" fill="#4a2468"/>
<rect x="196.4" y="214.7" width="1.1" height="1.1" fill="#4a2468"/>
<rect x="188.8" y="215.5" width="1.1" height="1.1" fill="#4a2468"/>
<rect x="186.4" y="215.3" width="1.1" height="1.1" fill="#4a2468"/>
<rect x="198.4" y="224.3" width="1.1" height="1.1" fill="#4a2468"/>
<rect x="202.3" y="220.4" width="1.1" height="1.1" fill="#4a2468"/>
<rect x="191.6" y="214.2" width="1.1" height="1.1" fill="#4a2468"/>
<rect x="191.6" y="212.4" width="1.1" height="1.1" fill="#4a2468"/>
<rect x="183.5" y="222.6" width="1.1" height="1.1" fill="#4a2468"/>
<rect x="199.3" y="225.2" width="1.1" height="1.1" fill="#4a2468"/>
<rect x="198.8" y="221.9" width="1.1" height="1.1" fill="#4a2468"/>
<rect x="188.7" y="219.8" width="1.1" height="1.1" fill="#4a2468"/>
<rect x="190.4" y="213.3" width="1.1" height="1.1" fill="#4a2468"/>
<rect x="184.0" y="210.5" width="1.1" height="1.1" fill="#4a2468"/>
<rect x="192.2" y="220.6" width="1.1" height="1.1" fill="#4a2468"/>
<rect x="189.9" y="227.4" width="1.1" height="1.1" fill="#4a2468"/>
<rect x="193.1" y="223.1" width="1.1" height="1.1" fill="#4a2468"/>
<rect x="198.2" y="215.9" width="1.1" height="1.1" fill="#4a2468"/>
<rect x="182.6" y="222.8" width="1.1" height="1.1" fill="#4a2468"/>
<rect x="188.9" y="226.7" width="1.1" height="1.1" fill="#4a2468"/>
<rect x="193.9" y="225.5" width="1.1" height="1.1" fill="#4a2468"/>
<rect x="196.0" y="208.6" width="1.1" height="1.1" fill="#4a2468"/>
<rect x="195.8" y="216.4" width="1.1" height="1.1" fill="#4a2468"/>
<rect x="188.5" y="216.9" width="1.1" height="1.1" fill="#4a2468"/>
<rect x="196.0" y="225.1" width="1.1" height="1.1" fill="#4a2468"/>
<rect x="197.2" y="211.1" width="1.1" height="1.1" fill="#4a2468"/>
<rect x="189.4" y="206.2" width="1.1" height="1.1" fill="#4a2468"/>
<rect x="191.8" y="223.0" width="1.1" height="1.1" fill="#4a2468"/>
<rect x="188.5" y="220.7" width="1.1" height="1.1" fill="#4a2468"/>
<rect x="193.4" y="225.5" width="1.1" height="1.1" fill="#4a2468"/>
<rect x="188.2" y="214.7" width="1.1" height="1.1" fill="#4a2468"/>
<rect x="188.5" y="229.1" width="1.1" height="1.1" fill="#4a2468"/>
<rect x="197.6" y="219.7" width="1.1" height="1.1" fill="#4a2468"/>
<rect x="193.4" y="220.5" width="1.1" height="1.1" fill="#4a2468"/>
<rect x="193.2" y="218.7" width="1.1" height="1.1" fill="#4a2468"/>
<rect x="190.6" y="212.6" width="1.1" height="1.1" fill="#4a2468"/>
<rect x="189.1" y="228.6" width="1.1" height="1.1" fill="#4a2468"/>
<rect x="194.9" y="220.4" width="1.1" height="1.1" fill="#4a2468"/>
<rect x="191.2" y="220.0" width="1.1" height="1.1" fill="#4a2468"/>
<rect x="194.0" y="216.3" width="1.1" height="1.1" fill="#4a2468"/>
<rect x="193.2" y="221.2" width="1.1" height="1.1" fill="#4a2468"/>
<rect x="188.6" y="214.9" width="1.1" height="1.1" fill="#4a2468"/>
<rect x="187.4" y="213.3" width="1.1" height="1.1" fill="#4a2468"/>
<rect x="196.6" y="207.1" width="1.1" height="1.1" fill="#4a2468"/>
<rect x="190.9" y="216.2" width="1.1" height="1.1" fill="#4a2468"/>
<rect x="189.2" y="219.9" width="1.1" height="1.1" fill="#4a2468"/>
<rect x="197.8" y="220.8" width="1.1" height="1.1" fill="#4a2468"/>
<rect x="191.6" y="216.3" width="1.1" height="1.1" fill="#4a2468"/>
<rect x="191.6" y="224.8" width="1.1" height="1.1" fill="#4a2468"/>
<rect x="190.3" y="213.1" width="1.1" height="1.1" fill="#4a2468"/>
<rect x="186.1" y="212.9" width="1.1" height="1.1" fill="#4a2468"/>
<rect x="185.4" y="225.1" width="1.1" height="1.1" fill="#4a2468"/>
<rect x="194.0" y="218.6" width="1.1" height="1.1" fill="#4a2468"/>
<rect x="199.4" y="216.9" width="1.1" height="1.1" fill="#4a2468"/>
<rect x="195.9" y="224.6" width="1.1" height="1.1" fill="#4a2468"/>
<rect x="184.7" y="210.2" width="1.1" height="1.1" fill="#4a2468"/>
<rect x="187.7" y="224.3" width="1.1" height="1.1" fill="#4a2468"/>
<rect x="198.6" y="213.6" width="1.1" height="1.1" fill="#4a2468"/>
<rect x="197.4" y="218.2" width="1.1" height="1.1" fill="#4a2468"/>
<rect x="190.3" y="216.5" width="1.1" height="1.1" fill="#4a2468"/>
<rect x="190.7" y="209.4" width="1.1" height="1.1" fill="#4a2468"/>
<rect x="187.3" y="212.3" width="1.1" height="1.1" fill="#4a2468"/>
<rect x="194.7" y="231.7" width="1.1" height="1.1" fill="#4a2468"/>
<rect x="205.6" y="219.4" width="1.1" height="1.1" fill="#4a2468"/>
<rect x="183.8" y="216.5" width="1.1" height="1.1" fill="#4a2468"/>
<rect x="187.6" y="230.3" width="1.1" height="1.1" fill="#4a2468"/>
<rect x="195.0" y="216.0" width="1.1" height="1.1" fill="#4a2468"/>
<rect x="196.8" y="223.3" width="1.1" height="1.1" fill="#4a2468"/>
<rect x="184.3" y="215.9" width="1.1" height="1.1" fill="#4a2468"/>
<rect x="191.1" y="219.7" width="1.1" height="1.1" fill="#4a2468"/>
<rect x="192.9" y="217.9" width="1.1" height="1.1" fill="#4a2468"/>
<rect x="193.2" y="216.6" width="1.1" height="1.1" fill="#4a2468"/>
<rect x="187.9" y="227.7" width="1.1" height="1.1" fill="#4a2468"/>
<rect x="194.0" y="222.4" width="1.1" height="1.1" fill="#4a2468"/>
<rect x="184.4" y="217.9" width="1.1" height="1.1" fill="#4a2468"/>
<rect x="196.3" y="213.0" width="1.1" height="1.1" fill="#4a2468"/>
<rect x="197.6" y="218.2" width="1.1" height="1.1" fill="#4a2468"/>
<rect x="194.2" y="219.2" width="1.1" height="1.1" fill="#4a2468"/>
<rect x="193.3" y="226.6" width="1.1" height="1.1" fill="#4a2468"/>
<rect x="190.3" y="228.2" width="1.1" height="1.1" fill="#4a2468"/>
<rect x="188.4" y="214.1" width="1.1" height="1.1" fill="#4a2468"/>
<rect x="195.7" y="214.2" width="1.1" height="1.1" fill="#4a2468"/>
<rect x="190.4" y="224.6" width="1.1" height="1.1" fill="#4a2468"/>
<rect x="198.2" y="210.5" width="1.1" height="1.1" fill="#4a2468"/>
<rect x="194.7" y="230.5" width="1.1" height="1.1" fill="#4a2468"/>
<rect x="198.1" y="219.1" width="1.1" height="1.1" fill="#4a2468"/>
<rect x="189.3" y="217.8" width="1.1" height="1.1" fill="#4a2468"/>
<rect x="186.6" y="217.6" width="1.1" height="1.1" fill="#4a2468"/>
<rect x="191.3" y="218.8" width="1.1" height="1.1" fill="#4a2468"/>
<rect x="198.0" y="219.1" width="1.1" height="1.1" fill="#4a2468"/>
<rect x="185.1" y="224.8" width="1.1" height="1.1" fill="#4a2468"/>
<rect x="187.0" y="216.7" width="1.1" height="1.1" fill="#4a2468"/>
<rect x="191.6" y="217.8" width="1.1" height="1.1" fill="#4a2468"/>
<rect x="187.3" y="217.8" width="1.1" height="1.1" fill="#4a2468"/>
<rect x="203.0" y="217.6" width="1.1" height="1.1" fill="#4a2468"/>
<rect x="191.6" y="225.9" width="1.1" height="1.1" fill="#4a2468"/>
<rect x="195.9" y="224.4" width="1.1" height="1.1" fill="#4a2468"/>
<rect x="196.5" y="209.3" width="1.1" height="1.1" fill="#4a2468"/>
<rect x="188.0" y="220.0" width="1.1" height="1.1" fill="#4a2468"/>
<rect x="194.7" y="227.2" width="1.1" height="1.1" fill="#4a2468"/>
<rect x="194.6" y="218.7" width="1.1" height="1.1" fill="#4a2468"/>
<rect x="192.4" y="218.6" width="1.1" height="1.1" fill="#4a2468"/>
<rect x="192.0" y="233.7" width="1.1" height="1.1" fill="#4a2468"/>
<rect x="192.6" y="229.3" width="1.1" height="1.1" fill="#4a2468"/>
<rect x="190.7" y="226.7" width="1.1" height="1.1" fill="#4a2468"/>
<rect x="193.1" y="234.2" width="1.1" height="1.1" fill="#4a2468"/>
<rect x="192.8" y="228.5" width="1.1" height="1.1" fill="#4a2468"/>
<rect x="192.7" y="227.8" width="1.1" height="1.1" fill="#4a2468"/>
<rect x="190.5" y="230.0" width="1.1" height="1.1" fill="#4a2468"/>
<rect x="191.5" y="230.4" width="1.1" height="1.1" fill="#4a2468"/>
<rect x="191.1" y="227.9" width="1.1" height="1.1" fill="#4a2468"/>
<rect x="191.6" y="233.0" width="1.1" height="1.1" fill="#4a2468"/>
<rect x="190.8" y="235.7" width="1.1" height="1.1" fill="#4a2468"/>
<rect x="190.6" y="232.8" width="1.1" height="1.1" fill="#4a2468"/>
<rect x="192.3" y="234.3" width="1.1" height="1.1" fill="#4a2468"/>
<rect x="191.1" y="235.2" width="1.1" height="1.1" fill="#4a2468"/>
<rect x="172.8" y="238.8" width="1.1" height="1.1" fill="#4a2468"/>
<rect x="176.3" y="238.8" width="1.1" height="1.1" fill="#4a2468"/>
<rect x="187.4" y="238.8" width="1.1" height="1.1" fill="#4a2468"/>
<rect x="190.0" y="238.8" width="1.1" height="1.1" fill="#4a2468"/>
<rect x="193.4" y="238.8" width="1.1" height="1.1" fill="#4a2468"/>
<rect x="196.0" y="238.8" width="1.1" height="1.1" fill="#4a2468"/>
<rect x="198.6" y="200.2" width="1.1" height="1.1" fill="#4a2468"/>
<rect x="204.6" y="201.4" width="1.1" height="1.1" fill="#4a2468"/>
<rect x="214.1" y="200.2" width="1.1" height="1.1" fill="#4a2468"/>
<rect x="191.8" y="206.6" width="1.1" height="1.1" fill="#4a2468"/>
<rect x="195.2" y="204.9" width="1.1" height="1.1" fill="#4a2468"/>
<rect x="176.3" y="214.3" width="1.1" height="1.1" fill="#4a2468"/>
<rect x="178.9" y="220.3" width="1.1" height="1.1" fill="#4a2468"/>
<rect x="181.4" y="224.6" width="1.1" height="1.1" fill="#4a2468"/>
<rect x="175.4" y="231.4" width="1.1" height="1.1" fill="#4a2468"/>
<rect x="216.9" y="216.4" width="1.1" height="1.1" fill="#4a2468"/>
<rect x="223.4" y="215.2" width="1.1" height="1.1" fill="#4a2468"/>
<rect x="228.8" y="216.4" width="1.1" height="1.1" fill="#4a2468"/>
<rect x="235.8" y="214.1" width="1.1" height="1.1" fill="#4a2468"/>
<rect x="213.6" y="199.1" width="1.1" height="1.1" fill="#4a2468"/>
<rect x="199.8" y="200.2" width="1.1" height="1.1" fill="#4a2468"/>
<rect x="209.4" y="223.4" width="1.1" height="1.1" fill="#4a2468"/>
<rect x="206.4" y="229.4" width="1.1" height="1.1" fill="#4a2468"/>
<rect x="211.4" y="209.4" width="1.1" height="1.1" fill="#4a2468"/>
<rect x="218.4" y="211.4" width="1.1" height="1.1" fill="#4a2468"/>
<circle cx="201.8" cy="171.3" r="2.2" fill="#3d1f4f"/>
<circle cx="228.3" cy="246.2" r="2.1" fill="#b0103c"/>
<text x="267.50" y="158.90" font-size="10.8" text-anchor="start" font-weight="bold" fill="#111" stroke="#111" stroke-width="0.3" >E</text>
<line x1="297.60" y1="168.00" x2="297.60" y2="248.00" stroke="#1e1e1e" stroke-width="1.1" />
<line x1="297.70" y1="206.00" x2="297.70" y2="236.40" stroke="#7cc8e2" stroke-width="1.5" />
<line x1="297.10" y1="248.00" x2="382.00" y2="248.00" stroke="#1e1e1e" stroke-width="1.1" />
<line x1="299.60" y1="247.80" x2="347.70" y2="247.80" stroke="#b05a76" stroke-width="1.3" />
<line x1="294.00" y1="169.40" x2="297.60" y2="169.40" stroke="#1e1e1e" stroke-width="0.9" />
<text x="291.00" y="171.40" font-size="6.0" text-anchor="end" font-weight="normal" fill="#333" stroke="#333" stroke-width="0.12" textLength="9.6" lengthAdjust="spacingAndGlyphs" >100</text>
<line x1="294.00" y1="195.20" x2="297.60" y2="195.20" stroke="#1e1e1e" stroke-width="0.9" />
<text x="291.00" y="197.20" font-size="6.0" text-anchor="end" font-weight="normal" fill="#333" stroke="#333" stroke-width="0.12" textLength="1.8" lengthAdjust="spacingAndGlyphs" >1</text>
<line x1="294.00" y1="222.60" x2="297.60" y2="222.60" stroke="#1e1e1e" stroke-width="0.9" />
<text x="291.00" y="224.60" font-size="6.0" text-anchor="end" font-weight="normal" fill="#333" stroke="#333" stroke-width="0.12" textLength="11.2" lengthAdjust="spacingAndGlyphs" >0.01</text>
<line x1="297.60" y1="248.00" x2="297.60" y2="250.60" stroke="#1e1e1e" stroke-width="0.9" />
<text x="297.60" y="259.30" font-size="6.0" text-anchor="middle" font-weight="normal" fill="#333" stroke="#333" stroke-width="0.12" textLength="2.9" lengthAdjust="spacingAndGlyphs" >0</text>
<line x1="324.70" y1="248.00" x2="324.70" y2="250.60" stroke="#1e1e1e" stroke-width="0.9" />
<text x="324.70" y="259.30" font-size="6.0" text-anchor="middle" font-weight="normal" fill="#333" stroke="#333" stroke-width="0.12" textLength="11.2" lengthAdjust="spacingAndGlyphs" >0.01</text>
<line x1="351.60" y1="248.00" x2="351.60" y2="250.60" stroke="#1e1e1e" stroke-width="0.9" />
<text x="351.60" y="259.30" font-size="6.0" text-anchor="middle" font-weight="normal" fill="#333" stroke="#333" stroke-width="0.12" textLength="1.8" lengthAdjust="spacingAndGlyphs" >1</text>
<line x1="378.00" y1="248.00" x2="378.00" y2="250.60" stroke="#1e1e1e" stroke-width="0.9" />
<text x="378.00" y="259.30" font-size="6.0" text-anchor="middle" font-weight="normal" fill="#333" stroke="#333" stroke-width="0.12" textLength="9.6" lengthAdjust="spacingAndGlyphs" >100</text>
<text x="339.20" y="269.10" font-size="8.0" text-anchor="middle" font-weight="normal" fill="#222" stroke="#222" stroke-width="0.32" textLength="31.2" lengthAdjust="spacingAndGlyphs" >Blood (85%)</text>
<g transform="translate(274.1,207.4) rotate(-90)">
<text x="0.00" y="0.00" font-size="8.0" text-anchor="middle" font-weight="normal" fill="#222" stroke="#222" stroke-width="0.32" textLength="28.2" lengthAdjust="spacingAndGlyphs" >Skin (13%)</text>
</g>
<text x="320.20" y="189.50" font-size="5.8" text-anchor="start" font-weight="normal" fill="#3a3a3a" stroke="#3a3a3a" stroke-width="0.18" textLength="33.3" lengthAdjust="spacingAndGlyphs" >Shared (2%)</text>
<rect x="328.7" y="216.0" width="1.1" height="1.1" fill="#4a2468"/>
<rect x="319.1" y="233.3" width="1.1" height="1.1" fill="#4a2468"/>
<rect x="328.7" y="238.5" width="1.1" height="1.1" fill="#4a2468"/>
<rect x="326.9" y="217.4" width="1.1" height="1.1" fill="#4a2468"/>
<rect x="325.1" y="228.9" width="1.1" height="1.1" fill="#4a2468"/>
<rect x="324.3" y="222.6" width="1.1" height="1.1" fill="#4a2468"/>
<rect x="327.5" y="214.0" width="1.1" height="1.1" fill="#4a2468"/>
<rect x="325.2" y="217.0" width="1.1" height="1.1" fill="#4a2468"/>
<rect x="317.0" y="227.2" width="1.1" height="1.1" fill="#4a2468"/>
<rect x="328.4" y="219.3" width="1.1" height="1.1" fill="#4a2468"/>
<rect x="319.0" y="210.4" width="1.1" height="1.1" fill="#4a2468"/>
<rect x="327.4" y="218.6" width="1.1" height="1.1" fill="#4a2468"/>
<rect x="314.3" y="222.7" width="1.1" height="1.1" fill="#4a2468"/>
<rect x="315.3" y="222.6" width="1.1" height="1.1" fill="#4a2468"/>
<rect x="325.3" y="221.8" width="1.1" height="1.1" fill="#4a2468"/>
<rect x="325.8" y="220.6" width="1.1" height="1.1" fill="#4a2468"/>
<rect x="317.6" y="219.9" width="1.1" height="1.1" fill="#4a2468"/>
<rect x="321.4" y="219.6" width="1.1" height="1.1" fill="#4a2468"/>
<rect x="326.1" y="223.1" width="1.1" height="1.1" fill="#4a2468"/>
<rect x="334.3" y="202.7" width="1.1" height="1.1" fill="#4a2468"/>
<rect x="326.9" y="218.2" width="1.1" height="1.1" fill="#4a2468"/>
<rect x="338.1" y="221.3" width="1.1" height="1.1" fill="#4a2468"/>
<rect x="314.5" y="225.2" width="1.1" height="1.1" fill="#4a2468"/>
<rect x="321.3" y="226.6" width="1.1" height="1.1" fill="#4a2468"/>
<rect x="318.1" y="221.3" width="1.1" height="1.1" fill="#4a2468"/>
<rect x="323.7" y="219.7" width="1.1" height="1.1" fill="#4a2468"/>
<rect x="320.9" y="210.7" width="1.1" height="1.1" fill="#4a2468"/>
<rect x="327.2" y="224.9" width="1.1" height="1.1" fill="#4a2468"/>
<rect x="324.0" y="214.4" width="1.1" height="1.1" fill="#4a2468"/>
<rect x="325.7" y="222.9" width="1.1" height="1.1" fill="#4a2468"/>
<rect x="323.4" y="220.3" width="1.1" height="1.1" fill="#4a2468"/>
<rect x="332.9" y="211.3" width="1.1" height="1.1" fill="#4a2468"/>
<rect x="321.1" y="210.3" width="1.1" height="1.1" fill="#4a2468"/>
<rect x="320.3" y="217.1" width="1.1" height="1.1" fill="#4a2468"/>
<rect x="318.7" y="217.8" width="1.1" height="1.1" fill="#4a2468"/>
<rect x="335.2" y="215.8" width="1.1" height="1.1" fill="#4a2468"/>
<rect x="323.8" y="232.6" width="1.1" height="1.1" fill="#4a2468"/>
<rect x="324.1" y="210.4" width="1.1" height="1.1" fill="#4a2468"/>
<rect x="326.9" y="214.1" width="1.1" height="1.1" fill="#4a2468"/>
<rect x="334.3" y="210.1" width="1.1" height="1.1" fill="#4a2468"/>
<rect x="321.0" y="212.0" width="1.1" height="1.1" fill="#4a2468"/>
<rect x="325.0" y="214.2" width="1.1" height="1.1" fill="#4a2468"/>
<rect x="324.1" y="218.0" width="1.1" height="1.1" fill="#4a2468"/>
<rect x="320.8" y="226.4" width="1.1" height="1.1" fill="#4a2468"/>
<rect x="330.1" y="218.7" width="1.1" height="1.1" fill="#4a2468"/>
<rect x="319.0" y="215.6" width="1.1" height="1.1" fill="#4a2468"/>
<rect x="326.1" y="233.0" width="1.1" height="1.1" fill="#4a2468"/>
<rect x="321.7" y="216.4" width="1.1" height="1.1" fill="#4a2468"/>
<rect x="320.3" y="215.1" width="1.1" height="1.1" fill="#4a2468"/>
<rect x="318.6" y="220.6" width="1.1" height="1.1" fill="#4a2468"/>
<rect x="333.1" y="217.5" width="1.1" height="1.1" fill="#4a2468"/>
<rect x="321.4" y="211.9" width="1.1" height="1.1" fill="#4a2468"/>
<rect x="325.7" y="219.5" width="1.1" height="1.1" fill="#4a2468"/>
<rect x="317.1" y="216.1" width="1.1" height="1.1" fill="#4a2468"/>
<rect x="324.2" y="225.8" width="1.1" height="1.1" fill="#4a2468"/>
<rect x="328.2" y="220.1" width="1.1" height="1.1" fill="#4a2468"/>
<rect x="322.5" y="222.4" width="1.1" height="1.1" fill="#4a2468"/>
<rect x="324.4" y="232.3" width="1.1" height="1.1" fill="#4a2468"/>
<rect x="317.7" y="220.0" width="1.1" height="1.1" fill="#4a2468"/>
<rect x="332.1" y="216.3" width="1.1" height="1.1" fill="#4a2468"/>
<rect x="333.0" y="217.3" width="1.1" height="1.1" fill="#4a2468"/>
<rect x="325.3" y="217.7" width="1.1" height="1.1" fill="#4a2468"/>
<rect x="316.2" y="217.0" width="1.1" height="1.1" fill="#4a2468"/>
<rect x="337.7" y="219.8" width="1.1" height="1.1" fill="#4a2468"/>
<rect x="328.1" y="224.3" width="1.1" height="1.1" fill="#4a2468"/>
<rect x="327.9" y="224.8" width="1.1" height="1.1" fill="#4a2468"/>
<rect x="322.9" y="219.3" width="1.1" height="1.1" fill="#4a2468"/>
<rect x="330.4" y="216.3" width="1.1" height="1.1" fill="#4a2468"/>
<rect x="316.5" y="221.1" width="1.1" height="1.1" fill="#4a2468"/>
<rect x="321.2" y="224.5" width="1.1" height="1.1" fill="#4a2468"/>
<rect x="320.1" y="215.4" width="1.1" height="1.1" fill="#4a2468"/>
<rect x="322.5" y="229.4" width="1.1" height="1.1" fill="#4a2468"/>
<rect x="324.2" y="221.0" width="1.1" height="1.1" fill="#4a2468"/>
<rect x="324.5" y="221.7" width="1.1" height="1.1" fill="#4a2468"/>
<rect x="330.0" y="226.3" width="1.1" height="1.1" fill="#4a2468"/>
<rect x="314.6" y="230.6" width="1.1" height="1.1" fill="#4a2468"/>
<rect x="324.4" y="218.3" width="1.1" height="1.1" fill="#4a2468"/>
<rect x="338.8" y="214.9" width="1.1" height="1.1" fill="#4a2468"/>
<rect x="336.1" y="222.1" width="1.1" height="1.1" fill="#4a2468"/>
<rect x="318.3" y="224.6" width="1.1" height="1.1" fill="#4a2468"/>
<rect x="328.9" y="218.0" width="1.1" height="1.1" fill="#4a2468"/>
<rect x="310.5" y="222.2" width="1.1" height="1.1" fill="#4a2468"/>
<rect x="323.3" y="214.2" width="1.1" height="1.1" fill="#4a2468"/>
<rect x="335.4" y="215.4" width="1.1" height="1.1" fill="#4a2468"/>
<rect x="322.1" y="219.1" width="1.1" height="1.1" fill="#4a2468"/>
<rect x="319.7" y="217.1" width="1.1" height="1.1" fill="#4a2468"/>
<rect x="325.0" y="221.6" width="1.1" height="1.1" fill="#4a2468"/>
<rect x="321.4" y="220.4" width="1.1" height="1.1" fill="#4a2468"/>
<rect x="316.1" y="225.4" width="1.1" height="1.1" fill="#4a2468"/>
<rect x="320.0" y="222.6" width="1.1" height="1.1" fill="#4a2468"/>
<rect x="319.0" y="218.8" width="1.1" height="1.1" fill="#4a2468"/>
<rect x="325.7" y="212.9" width="1.1" height="1.1" fill="#4a2468"/>
<rect x="339.3" y="215.5" width="1.1" height="1.1" fill="#4a2468"/>
<rect x="324.0" y="216.0" width="1.1" height="1.1" fill="#4a2468"/>
<rect x="334.0" y="225.0" width="1.1" height="1.1" fill="#4a2468"/>
<rect x="326.2" y="211.8" width="1.1" height="1.1" fill="#4a2468"/>
<rect x="321.4" y="224.4" width="1.1" height="1.1" fill="#4a2468"/>
<rect x="321.4" y="214.3" width="1.1" height="1.1" fill="#4a2468"/>
<rect x="317.3" y="217.8" width="1.1" height="1.1" fill="#4a2468"/>
<rect x="324.5" y="216.4" width="1.1" height="1.1" fill="#4a2468"/>
<rect x="324.6" y="235.7" width="1.1" height="1.1" fill="#4a2468"/>
<rect x="335.1" y="211.1" width="1.1" height="1.1" fill="#4a2468"/>
<rect x="326.5" y="219.9" width="1.1" height="1.1" fill="#4a2468"/>
<rect x="323.6" y="226.2" width="1.1" height="1.1" fill="#4a2468"/>
<rect x="322.5" y="218.8" width="1.1" height="1.1" fill="#4a2468"/>
<rect x="322.2" y="220.1" width="1.1" height="1.1" fill="#4a2468"/>
<rect x="332.2" y="222.1" width="1.1" height="1.1" fill="#4a2468"/>
<rect x="316.4" y="219.9" width="1.1" height="1.1" fill="#4a2468"/>
<rect x="319.7" y="226.1" width="1.1" height="1.1" fill="#4a2468"/>
<rect x="325.8" y="224.7" width="1.1" height="1.1" fill="#4a2468"/>
<rect x="324.1" y="209.4" width="1.1" height="1.1" fill="#4a2468"/>
<rect x="327.2" y="220.5" width="1.1" height="1.1" fill="#4a2468"/>
<rect x="327.5" y="211.8" width="1.1" height="1.1" fill="#4a2468"/>
<rect x="324.9" y="216.0" width="1.1" height="1.1" fill="#4a2468"/>
<rect x="320.3" y="223.3" width="1.1" height="1.1" fill="#4a2468"/>
<rect x="326.6" y="214.4" width="1.1" height="1.1" fill="#4a2468"/>
<rect x="314.2" y="209.2" width="1.1" height="1.1" fill="#4a2468"/>
<rect x="321.0" y="227.4" width="1.1" height="1.1" fill="#4a2468"/>
<rect x="324.1" y="207.5" width="1.1" height="1.1" fill="#4a2468"/>
<rect x="319.3" y="223.9" width="1.1" height="1.1" fill="#4a2468"/>
<rect x="334.5" y="223.7" width="1.1" height="1.1" fill="#4a2468"/>
<rect x="326.7" y="220.5" width="1.1" height="1.1" fill="#4a2468"/>
<rect x="318.1" y="219.4" width="1.1" height="1.1" fill="#4a2468"/>
<rect x="322.5" y="216.3" width="1.1" height="1.1" fill="#4a2468"/>
<rect x="324.8" y="217.7" width="1.1" height="1.1" fill="#4a2468"/>
<rect x="326.5" y="227.5" width="1.1" height="1.1" fill="#4a2468"/>
<rect x="328.9" y="221.1" width="1.1" height="1.1" fill="#4a2468"/>
<rect x="323.0" y="211.9" width="1.1" height="1.1" fill="#4a2468"/>
<rect x="323.8" y="223.3" width="1.1" height="1.1" fill="#4a2468"/>
<rect x="318.4" y="228.9" width="1.1" height="1.1" fill="#4a2468"/>
<rect x="322.4" y="222.7" width="1.1" height="1.1" fill="#4a2468"/>
<rect x="322.5" y="213.6" width="1.1" height="1.1" fill="#4a2468"/>
<rect x="336.9" y="209.9" width="1.1" height="1.1" fill="#4a2468"/>
<rect x="330.0" y="215.3" width="1.1" height="1.1" fill="#4a2468"/>
<rect x="326.1" y="215.0" width="1.1" height="1.1" fill="#4a2468"/>
<rect x="322.0" y="226.0" width="1.1" height="1.1" fill="#4a2468"/>
<rect x="336.1" y="211.8" width="1.1" height="1.1" fill="#4a2468"/>
<rect x="324.5" y="225.4" width="1.1" height="1.1" fill="#4a2468"/>
<rect x="320.7" y="225.2" width="1.1" height="1.1" fill="#4a2468"/>
<rect x="319.7" y="224.8" width="1.1" height="1.1" fill="#4a2468"/>
<rect x="327.1" y="226.1" width="1.1" height="1.1" fill="#4a2468"/>
<rect x="326.6" y="212.7" width="1.1" height="1.1" fill="#4a2468"/>
<rect x="328.4" y="212.7" width="1.1" height="1.1" fill="#4a2468"/>
<rect x="329.0" y="227.2" width="1.1" height="1.1" fill="#4a2468"/>
<rect x="328.0" y="215.9" width="1.1" height="1.1" fill="#4a2468"/>
<rect x="331.6" y="218.9" width="1.1" height="1.1" fill="#4a2468"/>
<rect x="317.0" y="220.3" width="1.1" height="1.1" fill="#4a2468"/>
<rect x="333.0" y="215.8" width="1.1" height="1.1" fill="#4a2468"/>
<rect x="325.2" y="217.9" width="1.1" height="1.1" fill="#4a2468"/>
<rect x="314.3" y="220.2" width="1.1" height="1.1" fill="#4a2468"/>
<rect x="326.6" y="220.6" width="1.1" height="1.1" fill="#4a2468"/>
<rect x="323.4" y="208.3" width="1.1" height="1.1" fill="#4a2468"/>
<rect x="331.8" y="221.9" width="1.1" height="1.1" fill="#4a2468"/>
<rect x="330.6" y="225.6" width="1.1" height="1.1" fill="#4a2468"/>
<rect x="321.8" y="217.4" width="1.1" height="1.1" fill="#4a2468"/>
<rect x="326.3" y="228.9" width="1.1" height="1.1" fill="#4a2468"/>
<rect x="314.3" y="221.7" width="1.1" height="1.1" fill="#4a2468"/>
<rect x="320.2" y="224.5" width="1.1" height="1.1" fill="#4a2468"/>
<rect x="333.2" y="215.8" width="1.1" height="1.1" fill="#4a2468"/>
<rect x="317.0" y="222.5" width="1.1" height="1.1" fill="#4a2468"/>
<rect x="322.7" y="211.9" width="1.1" height="1.1" fill="#4a2468"/>
<rect x="329.8" y="215.5" width="1.1" height="1.1" fill="#4a2468"/>
<rect x="328.5" y="211.4" width="1.1" height="1.1" fill="#4a2468"/>
<rect x="331.0" y="210.0" width="1.1" height="1.1" fill="#4a2468"/>
<rect x="330.8" y="208.0" width="1.1" height="1.1" fill="#4a2468"/>
<rect x="332.7" y="215.5" width="1.1" height="1.1" fill="#4a2468"/>
<rect x="315.1" y="221.5" width="1.1" height="1.1" fill="#4a2468"/>
<rect x="326.5" y="213.9" width="1.1" height="1.1" fill="#4a2468"/>
<rect x="321.5" y="222.4" width="1.1" height="1.1" fill="#4a2468"/>
<rect x="323.4" y="203.1" width="1.1" height="1.1" fill="#4a2468"/>
<rect x="321.9" y="223.2" width="1.1" height="1.1" fill="#4a2468"/>
<rect x="326.2" y="225.2" width="1.1" height="1.1" fill="#4a2468"/>
<rect x="320.3" y="235.6" width="1.1" height="1.1" fill="#4a2468"/>
<rect x="329.3" y="220.4" width="1.1" height="1.1" fill="#4a2468"/>
<rect x="331.0" y="223.5" width="1.1" height="1.1" fill="#4a2468"/>
<rect x="325.1" y="216.4" width="1.1" height="1.1" fill="#4a2468"/>
<rect x="330.6" y="220.6" width="1.1" height="1.1" fill="#4a2468"/>
<rect x="313.1" y="217.2" width="1.1" height="1.1" fill="#4a2468"/>
<rect x="327.3" y="219.8" width="1.1" height="1.1" fill="#4a2468"/>
<rect x="326.1" y="223.2" width="1.1" height="1.1" fill="#4a2468"/>
<rect x="325.3" y="228.7" width="1.1" height="1.1" fill="#4a2468"/>
<rect x="320.9" y="218.8" width="1.1" height="1.1" fill="#4a2468"/>
<rect x="326.4" y="223.7" width="1.1" height="1.1" fill="#4a2468"/>
<rect x="329.2" y="227.0" width="1.1" height="1.1" fill="#4a2468"/>
<rect x="321.6" y="227.5" width="1.1" height="1.1" fill="#4a2468"/>
<rect x="327.3" y="213.4" width="1.1" height="1.1" fill="#4a2468"/>
<rect x="323.6" y="232.0" width="1.1" height="1.1" fill="#4a2468"/>
<rect x="329.2" y="216.0" width="1.1" height="1.1" fill="#4a2468"/>
<rect x="310.1" y="220.2" width="1.1" height="1.1" fill="#4a2468"/>
<rect x="320.2" y="221.7" width="1.1" height="1.1" fill="#4a2468"/>
<rect x="338.3" y="220.2" width="1.1" height="1.1" fill="#4a2468"/>
<rect x="326.3" y="214.2" width="1.1" height="1.1" fill="#4a2468"/>
<rect x="317.3" y="221.0" width="1.1" height="1.1" fill="#4a2468"/>
<rect x="321.6" y="237.8" width="1.1" height="1.1" fill="#4a2468"/>
<rect x="322.0" y="217.3" width="1.1" height="1.1" fill="#4a2468"/>
<rect x="331.2" y="218.5" width="1.1" height="1.1" fill="#4a2468"/>
<rect x="317.0" y="229.5" width="1.1" height="1.1" fill="#4a2468"/>
<rect x="322.6" y="213.1" width="1.1" height="1.1" fill="#4a2468"/>
<rect x="326.4" y="222.2" width="1.1" height="1.1" fill="#4a2468"/>
<rect x="322.4" y="224.6" width="1.1" height="1.1" fill="#4a2468"/>
<rect x="329.4" y="213.6" width="1.1" height="1.1" fill="#4a2468"/>
<rect x="312.1" y="210.2" width="1.1" height="1.1" fill="#4a2468"/>
<rect x="323.7" y="227.2" width="1.1" height="1.1" fill="#4a2468"/>
<rect x="330.5" y="226.1" width="1.1" height="1.1" fill="#4a2468"/>
<rect x="335.6" y="216.9" width="1.1" height="1.1" fill="#4a2468"/>
<rect x="330.8" y="209.6" width="1.1" height="1.1" fill="#4a2468"/>
<rect x="328.6" y="221.0" width="1.1" height="1.1" fill="#4a2468"/>
<rect x="323.9" y="217.7" width="1.1" height="1.1" fill="#4a2468"/>
<rect x="317.8" y="222.8" width="1.1" height="1.1" fill="#4a2468"/>
<rect x="332.1" y="215.7" width="1.1" height="1.1" fill="#4a2468"/>
<rect x="327.6" y="215.4" width="1.1" height="1.1" fill="#4a2468"/>
<rect x="326.0" y="213.9" width="1.1" height="1.1" fill="#4a2468"/>
<rect x="326.7" y="218.2" width="1.1" height="1.1" fill="#4a2468"/>
<rect x="326.3" y="216.1" width="1.1" height="1.1" fill="#4a2468"/>
<rect x="317.4" y="220.3" width="1.1" height="1.1" fill="#4a2468"/>
<rect x="330.7" y="227.1" width="1.1" height="1.1" fill="#4a2468"/>
<rect x="322.5" y="225.1" width="1.1" height="1.1" fill="#4a2468"/>
<rect x="329.0" y="220.9" width="1.1" height="1.1" fill="#4a2468"/>
<rect x="315.1" y="224.6" width="1.1" height="1.1" fill="#4a2468"/>
<rect x="318.6" y="228.4" width="1.1" height="1.1" fill="#4a2468"/>
<rect x="329.2" y="222.1" width="1.1" height="1.1" fill="#4a2468"/>
<rect x="309.2" y="228.0" width="1.1" height="1.1" fill="#4a2468"/>
<rect x="328.6" y="211.6" width="1.1" height="1.1" fill="#4a2468"/>
<rect x="330.3" y="218.8" width="1.1" height="1.1" fill="#4a2468"/>
<rect x="323.4" y="216.4" width="1.1" height="1.1" fill="#4a2468"/>
<rect x="318.3" y="219.4" width="1.1" height="1.1" fill="#4a2468"/>
<rect x="343.0" y="215.7" width="1.1" height="1.1" fill="#4a2468"/>
<rect x="325.7" y="216.0" width="1.1" height="1.1" fill="#4a2468"/>
<rect x="320.7" y="218.0" width="1.1" height="1.1" fill="#4a2468"/>
<rect x="319.1" y="226.5" width="1.1" height="1.1" fill="#4a2468"/>
<rect x="350.1" y="214.1" width="1.1" height="1.1" fill="#4a2468"/>
<rect x="350.1" y="221.8" width="1.1" height="1.1" fill="#4a2468"/>
<rect x="329.8" y="198.0" width="1.1" height="1.1" fill="#4a2468"/>
<rect x="322.1" y="243.8" width="1.1" height="1.1" fill="#4a2468"/>
<rect x="325.4" y="243.8" width="1.1" height="1.1" fill="#4a2468"/>
<rect x="306.4" y="234.4" width="1.1" height="1.1" fill="#4a2468"/>
<rect x="309.4" y="236.4" width="1.1" height="1.1" fill="#4a2468"/>
<rect x="339.4" y="204.4" width="1.1" height="1.1" fill="#4a2468"/>
<rect x="335.4" y="199.4" width="1.1" height="1.1" fill="#4a2468"/>
<rect x="305.4" y="209.4" width="1.1" height="1.1" fill="#4a2468"/>
<circle cx="299.0" cy="169.3" r="2.1" fill="#4aa3dc"/>
<text x="399.30" y="158.90" font-size="10.8" text-anchor="start" font-weight="bold" fill="#111" stroke="#111" stroke-width="0.3" >F</text>
<line x1="427.80" y1="167.80" x2="427.80" y2="248.00" stroke="#1e1e1e" stroke-width="1.1" />
<line x1="427.90" y1="194.00" x2="427.90" y2="230.80" stroke="#7cc8e2" stroke-width="1.5" />
<line x1="427.30" y1="248.00" x2="511.50" y2="248.00" stroke="#1e1e1e" stroke-width="1.1" />
<line x1="435.00" y1="247.80" x2="464.00" y2="247.80" stroke="#b86a82" stroke-width="1.3" />
<line x1="424.20" y1="169.60" x2="427.80" y2="169.60" stroke="#1e1e1e" stroke-width="0.9" />
<text x="421.20" y="171.60" font-size="6.0" text-anchor="end" font-weight="normal" fill="#333" stroke="#333" stroke-width="0.12" textLength="9.6" lengthAdjust="spacingAndGlyphs" >100</text>
<line x1="424.20" y1="195.20" x2="427.80" y2="195.20" stroke="#1e1e1e" stroke-width="0.9" />
<text x="421.20" y="197.20" font-size="6.0" text-anchor="end" font-weight="normal" fill="#333" stroke="#333" stroke-width="0.12" textLength="1.8" lengthAdjust="spacingAndGlyphs" >1</text>
<line x1="424.20" y1="222.60" x2="427.80" y2="222.60" stroke="#1e1e1e" stroke-width="0.9" />
<text x="421.20" y="224.60" font-size="6.0" text-anchor="end" font-weight="normal" fill="#333" stroke="#333" stroke-width="0.12" textLength="11.2" lengthAdjust="spacingAndGlyphs" >0.01</text>
<line x1="428.10" y1="248.00" x2="428.10" y2="250.60" stroke="#1e1e1e" stroke-width="0.9" />
<text x="428.10" y="259.30" font-size="6.0" text-anchor="middle" font-weight="normal" fill="#333" stroke="#333" stroke-width="0.12" textLength="2.9" lengthAdjust="spacingAndGlyphs" >0</text>
<line x1="454.70" y1="248.00" x2="454.70" y2="250.60" stroke="#1e1e1e" stroke-width="0.9" />
<text x="454.70" y="259.30" font-size="6.0" text-anchor="middle" font-weight="normal" fill="#333" stroke="#333" stroke-width="0.12" textLength="11.2" lengthAdjust="spacingAndGlyphs" >0.01</text>
<line x1="482.30" y1="248.00" x2="482.30" y2="250.60" stroke="#1e1e1e" stroke-width="0.9" />
<text x="482.30" y="259.30" font-size="6.0" text-anchor="middle" font-weight="normal" fill="#333" stroke="#333" stroke-width="0.12" textLength="1.8" lengthAdjust="spacingAndGlyphs" >1</text>
<line x1="508.00" y1="248.00" x2="508.00" y2="250.60" stroke="#1e1e1e" stroke-width="0.9" />
<text x="508.00" y="259.30" font-size="6.0" text-anchor="middle" font-weight="normal" fill="#333" stroke="#333" stroke-width="0.12" textLength="9.6" lengthAdjust="spacingAndGlyphs" >100</text>
<text x="469.90" y="269.10" font-size="8.0" text-anchor="middle" font-weight="normal" fill="#222" stroke="#222" stroke-width="0.32" textLength="31.2" lengthAdjust="spacingAndGlyphs" >Blood (51%)</text>
<g transform="translate(404.6,207.4) rotate(-90)">
<text x="0.00" y="0.00" font-size="8.0" text-anchor="middle" font-weight="normal" fill="#222" stroke="#222" stroke-width="0.32" textLength="28.2" lengthAdjust="spacingAndGlyphs" >Skin (48%)</text>
</g>
<text x="452.20" y="189.50" font-size="5.8" text-anchor="start" font-weight="normal" fill="#3a3a3a" stroke="#3a3a3a" stroke-width="0.18" textLength="33.3" lengthAdjust="spacingAndGlyphs" >Shared (1%)</text>
<rect x="452.4" y="218.3" width="1.1" height="1.1" fill="#4a2468"/>
<rect x="449.4" y="219.4" width="1.1" height="1.1" fill="#4a2468"/>
<rect x="453.2" y="217.2" width="1.1" height="1.1" fill="#4a2468"/>
<rect x="452.9" y="210.2" width="1.1" height="1.1" fill="#4a2468"/>
<rect x="457.2" y="211.1" width="1.1" height="1.1" fill="#4a2468"/>
<rect x="452.8" y="210.3" width="1.1" height="1.1" fill="#4a2468"/>
<rect x="453.9" y="212.2" width="1.1" height="1.1" fill="#4a2468"/>
<rect x="454.2" y="215.4" width="1.1" height="1.1" fill="#4a2468"/>
<rect x="451.0" y="208.4" width="1.1" height="1.1" fill="#4a2468"/>
<rect x="454.7" y="217.9" width="1.1" height="1.1" fill="#4a2468"/>
<rect x="455.5" y="208.3" width="1.1" height="1.1" fill="#4a2468"/>
<rect x="455.2" y="215.3" width="1.1" height="1.1" fill="#4a2468"/>
<rect x="454.2" y="215.8" width="1.1" height="1.1" fill="#4a2468"/>
<rect x="452.2" y="215.4" width="1.1" height="1.1" fill="#4a2468"/>
<rect x="456.3" y="211.0" width="1.1" height="1.1" fill="#4a2468"/>
<rect x="448.5" y="215.0" width="1.1" height="1.1" fill="#4a2468"/>
<rect x="453.9" y="205.7" width="1.1" height="1.1" fill="#4a2468"/>
<rect x="451.0" y="217.4" width="1.1" height="1.1" fill="#4a2468"/>
<rect x="452.8" y="214.7" width="1.1" height="1.1" fill="#4a2468"/>
<rect x="449.1" y="219.4" width="1.1" height="1.1" fill="#4a2468"/>
<rect x="459.0" y="211.6" width="1.1" height="1.1" fill="#4a2468"/>
<rect x="450.8" y="209.6" width="1.1" height="1.1" fill="#4a2468"/>
<rect x="456.2" y="213.8" width="1.1" height="1.1" fill="#4a2468"/>
<rect x="450.6" y="220.4" width="1.1" height="1.1" fill="#4a2468"/>
<rect x="455.8" y="216.2" width="1.1" height="1.1" fill="#4a2468"/>
<rect x="447.4" y="215.3" width="1.1" height="1.1" fill="#4a2468"/>
<rect x="455.3" y="208.1" width="1.1" height="1.1" fill="#4a2468"/>
<rect x="456.3" y="219.7" width="1.1" height="1.1" fill="#4a2468"/>
<rect x="456.7" y="209.9" width="1.1" height="1.1" fill="#4a2468"/>
<rect x="450.9" y="219.0" width="1.1" height="1.1" fill="#4a2468"/>
<rect x="456.5" y="218.8" width="1.1" height="1.1" fill="#4a2468"/>
<rect x="457.2" y="212.6" width="1.1" height="1.1" fill="#4a2468"/>
<rect x="451.9" y="206.2" width="1.1" height="1.1" fill="#4a2468"/>
<rect x="455.8" y="223.7" width="1.1" height="1.1" fill="#4a2468"/>
<rect x="470.4" y="212.0" width="1.1" height="1.1" fill="#4a2468"/>
<rect x="473.6" y="211.4" width="1.1" height="1.1" fill="#4a2468"/>
<rect x="481.2" y="210.9" width="1.1" height="1.1" fill="#4a2468"/>
<rect x="469.4" y="232.4" width="1.1" height="1.1" fill="#4a2468"/>
<rect x="443.4" y="228.1" width="1.1" height="1.1" fill="#4a2468"/>
<rect x="447.8" y="230.3" width="1.1" height="1.1" fill="#4a2468"/>
<rect x="455.4" y="228.4" width="1.1" height="1.1" fill="#4a2468"/>
<rect x="458.4" y="203.4" width="1.1" height="1.1" fill="#4a2468"/>
<rect x="455.9" y="202.4" width="1.1" height="1.1" fill="#4a2468"/>
<rect x="446.4" y="207.4" width="1.1" height="1.1" fill="#4a2468"/>
<rect x="444.4" y="212.4" width="1.1" height="1.1" fill="#4a2468"/>
<rect x="461.4" y="209.4" width="1.1" height="1.1" fill="#4a2468"/>
<circle cx="505.7" cy="173.9" r="2.3" fill="#3d1f4f"/>
</svg></body></html>
